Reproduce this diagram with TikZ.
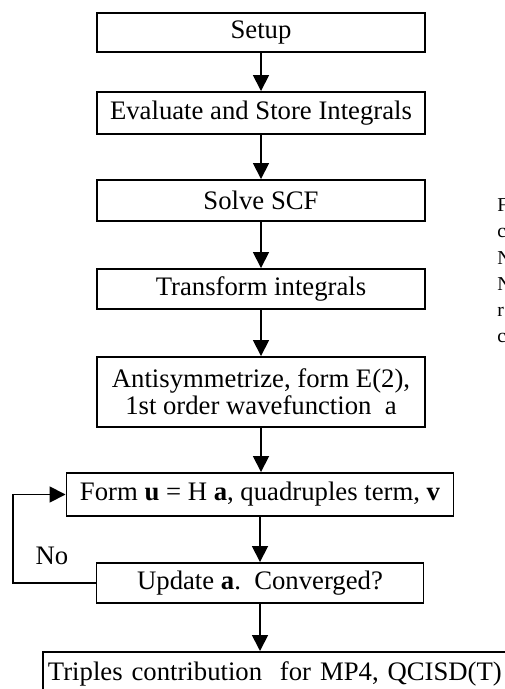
\documentclass[tikz,border=0pt]{standalone}
\usepackage{fontspec}
\setmainfont{Liberation Serif}
\usetikzlibrary{arrows.meta}

\begin{document}
\begin{tikzpicture}[scale=1.0, >={Triangle[length=0.32cm, width=0.32cm]},
    box/.style={draw, line width=1.1pt, minimum width=6.56cm, inner sep=0pt,
        align=center, font=\fontsize{15.2}{15.6}\selectfont},
    flow/.style={->, line width=1pt}]
    \useasboundingbox (0,0) rectangle (10.08,-13.78);

    % Steps of the calculation
    \node[box, minimum height=0.78cm] (setup) at (5.22,-0.65) {Setup};
    \node[box, minimum height=0.84cm] (eval) at (5.22,-2.26) {Evaluate and Store Integrals};
    \node[box, minimum height=0.82cm] (scf) at (5.22,-4.01) {Solve SCF};
    \node[box, minimum height=0.80cm] (trans) at (5.22,-5.78) {Transform integrals};
    \node[box, minimum height=1.40cm] (anti) at (5.22,-7.84)
        {Antisymmetrize, form E(2),\\ 1st order wavefunction\ \ a};
    \node[box, minimum height=0.86cm, minimum width=7.74cm] (form) at (5.20,-9.89)
        {Form \textbf{u} = H \textbf{a}, quadruples term, \textbf{v}};
    \node[box, minimum height=0.80cm, minimum width=6.54cm] (update) at (5.20,-11.66)
        {Update \textbf{a}.\ \ Converged?};
    \node[box, anchor=north west, minimum height=0.88cm, text width=9.6cm,
        align=left, inner xsep=0.1cm] (triples) at (0.84,-13.02)
        {Triples contribution\ \ for MP4, QCISD(T)};

    % Arrows down
    \draw[flow] (setup.south) -- (setup.south |- eval.north);
    \draw[flow] (eval.south) -- (eval.south |- scf.north);
    \draw[flow] (scf.south) -- (scf.south |- trans.north);
    \draw[flow] (trans.south) -- (trans.south |- anti.north);
    \draw[flow] (anti.south) -- (anti.south |- form.north);
    \draw[flow] (form.south) -- (form.south |- update.north);
    \draw[flow] (update.south) -- (update.south |- triples.north);

    % Loop back when not converged
    \coordinate (loop) at (0.26,0);
    \draw[flow] (update.west) -- (update.west -| loop) -- (form.west -| loop) -- (form.west);
    \node[font=\fontsize{15.2}{15.6}\selectfont] (no) at (1.04,-11.12) {No};

    % Caption cut off at the right edge
    \foreach \letter [count=\i] in {F,c,N,N,r,c}
        \node[anchor=base west, inner sep=0pt, font=\fontsize{11.2}{14}\selectfont]
            (cap\i) at (9.94,{-4.24-0.52*(\i-1)}) {\letter};
\end{tikzpicture}
\end{document}
